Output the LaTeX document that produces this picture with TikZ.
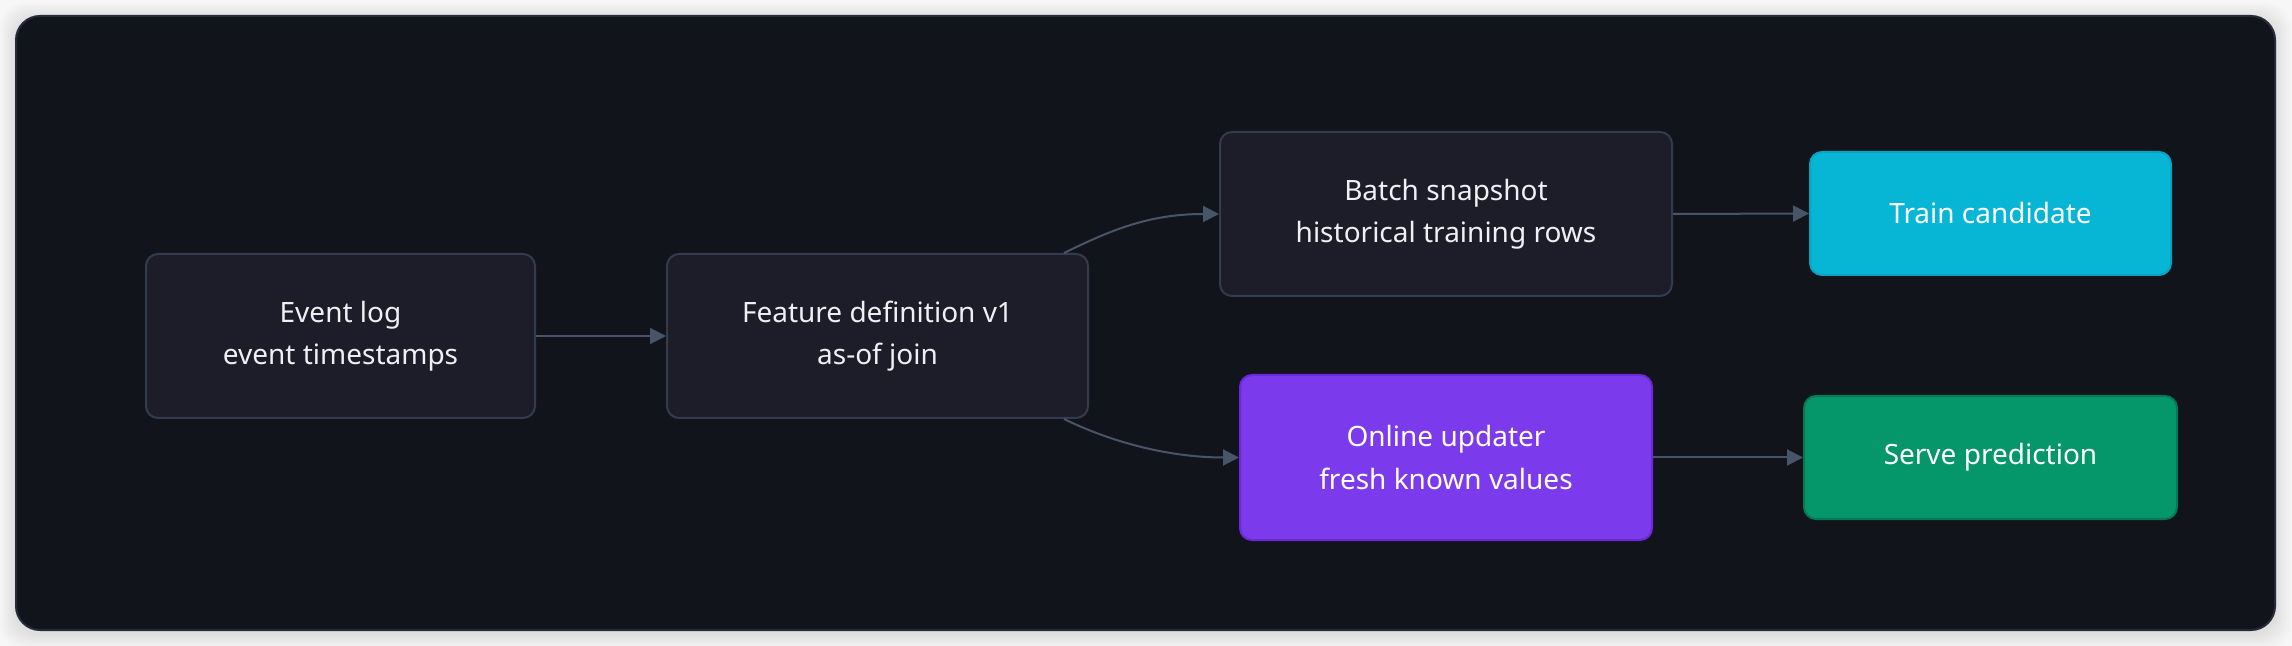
\documentclass[tikz,border=0pt]{standalone}
\usepackage{fontspec}
\setmainfont{Noto Sans}
\usetikzlibrary{arrows.meta,calc}
\definecolor{bgout}{HTML}{F7F7F8}
\definecolor{panel}{HTML}{12141B}
\definecolor{panelborder}{HTML}{252B38}
\definecolor{nodefill}{HTML}{1C1D29}
\definecolor{nodeborder}{HTML}{323C4C}
\definecolor{edgecol}{HTML}{475569}
\definecolor{txt}{HTML}{EEF0F4}
\definecolor{cyanfill}{HTML}{07B6D5}
\definecolor{cyanborder}{HTML}{0AA2C0}
\definecolor{violetfill}{HTML}{7C3AED}
\definecolor{violetborder}{HTML}{6D28D9}
\definecolor{greenfill}{HTML}{059669}
\definecolor{greenborder}{HTML}{047857}
\begin{document}
\begin{tikzpicture}[x=0.5pt,y=-0.5pt,
  box/.style={rectangle, rounded corners=6pt, line width=1pt, align=center,
    font=\fontsize{14pt}{21pt}\selectfont, inner sep=0pt},
  darkbox/.style={box, fill=nodefill, draw=nodeborder, text=txt},
  cyanbox/.style={box, fill=cyanfill, draw=cyanborder, text=white},
  violetbox/.style={box, fill=violetfill, draw=violetborder, text=white},
  greenbox/.style={box, fill=greenfill, draw=greenborder, text=white},
  conn/.style={draw=edgecol, line width=1pt, -{Triangle[length=8pt,width=8pt]}}
]
\useasboundingbox (0,0) rectangle (2292,646);
\fill[bgout] (0,0) rectangle (2292,646);
\foreach \s in {2,4,...,16} {
  \fill[black, opacity=0.012, rounded corners=12pt] (16-\s,16-\s+3) rectangle (2275+\s,630+\s+3);
}
\draw[fill=panel, draw=panelborder, line width=1pt, rounded corners=12pt] (16,16) rectangle (2275,630);

\node[darkbox, minimum width=194.5pt, minimum height=82pt] (ev) at (340.5,336) {Event log\\event timestamps};
\node[darkbox, minimum width=210.5pt, minimum height=82pt] (feat) at (877.5,336) {Feature definition v1\\as-of join};
\node[darkbox, minimum width=226pt, minimum height=82pt] (batch) at (1446,214) {Batch snapshot\\historical training rows};
\node[cyanbox, minimum width=180.5pt, minimum height=61.5pt] (train) at (1990.5,213.5) {Train candidate};
\node[violetbox, minimum width=206pt, minimum height=82.5pt] (online) at (1446,457.5) {Online updater\\fresh known values};
\node[greenbox, minimum width=186.5pt, minimum height=61.5pt] (serve) at (1990.5,457.5) {Serve prediction};

\coordinate (fa) at ([xshift=-12.5pt]feat.north east);
\coordinate (fb) at ([xshift=-12.5pt]feat.south east);

\draw[conn] (ev.east) -- (feat.west);
\draw[conn] (fa) .. controls ($(fa)+(47,-23)$) and ($(batch.west)+(-70,0)$) .. (batch.west);
\draw[conn] (fb) .. controls ($(fb)+(47,23)$) and ($(online.west)+(-70,0)$) .. (online.west);
\draw[conn] (batch.east) -- (train.west);
\draw[conn] (online.east) -- (serve.west);
\end{tikzpicture}
\end{document}
